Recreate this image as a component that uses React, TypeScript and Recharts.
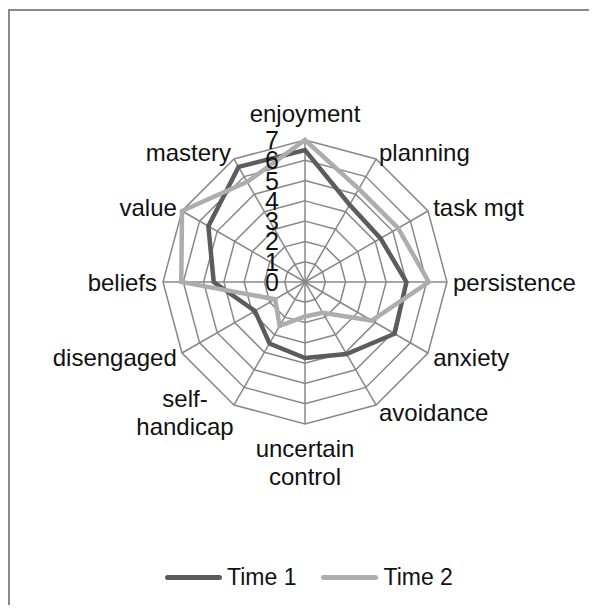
import { PolarAngleAxis, PolarGrid, PolarRadiusAxis, Radar, RadarChart, Legend } from "recharts";

const categories = [
  "enjoyment",
  "planning",
  "task mgt",
  "persistence",
  "anxiety",
  "avoidance",
  "uncertain\ncontrol",
  "self-\nhandicap",
  "disengaged",
  "beliefs",
  "value",
  "mastery",
];
const time1 = [6.5, 4.4, 4.3, 5.0, 5.1, 4.1, 3.75, 3.5, 2.85, 4.5, 5.5, 6.55];
const time2 = [7.0, 5.3, 5.3, 6.1, 3.8, 1.75, 1.7, 2.5, 1.7, 6.1, 7.0, 5.7];
const radiusTicks = [0, 1, 2, 3, 4, 5, 6, 7];

const seriesColors = { t1: "#5c5c5c", t2: "#adadad" };
const FONT = "'Liberation Sans', Arial, sans-serif";
const CX = 297;
const CY = 274;
const R = 142;
const RADIAN = Math.PI / 180;

const data = categories.map((name, i) => ({ name, t1: time1[i], t2: time2[i] }));

function AngleTick(props: any) {
  const { payload } = props;
  const angle = payload.coordinate;
  const cos = Math.cos(angle * RADIAN);
  const sin = Math.sin(angle * RADIAN);
  const lines = String(payload.value).split("\n");
  const lh = 28;
  const style = { fontFamily: FONT, fontSize: 24, fill: "#111" };
  if (Math.abs(cos) < 0.01) {
    const first = sin > 0 ? CY - R - 18 - (lines.length - 1) * lh : CY + R + 33;
    return (
      <text textAnchor="middle" style={style}>
        {lines.map((l, i) => (
          <tspan key={i} x={CX} y={first + i * lh}>
            {l}
          </tspan>
        ))}
      </text>
    );
  }
  let x = CX + (R + 6) * cos;
  const cyText = CY - (R + 8) * sin;
  let anchor = cos > 0 ? "start" : "end";
  if (lines.length > 1) {
    const w = Math.max(...lines.map((l) => l.length)) * 11.5;
    x = cos > 0 ? x + w / 2 : x - w / 2;
    anchor = "middle";
  }
  const top = cyText - ((lines.length - 1) * lh) / 2;
  return (
    <text textAnchor={anchor} dominantBaseline="central" style={style}>
      {lines.map((l, i) => (
        <tspan key={i} x={x} y={top + i * lh} dominantBaseline="central">
          {l}
        </tspan>
      ))}
    </text>
  );
}

function RadiusTick(props: any) {
  const { x, y, payload } = props;
  return (
    <text
      x={x - 26}
      y={y}
      textAnchor="end"
      dominantBaseline="central"
      style={{ fontFamily: FONT, fontSize: 25, fill: "#111" }}
    >
      {payload.value}
    </text>
  );
}

function LegendContent() {
  const items = [
    { label: "Time 1", color: seriesColors.t1 },
    { label: "Time 2", color: seriesColors.t2 },
  ];
  return (
    <div style={{ display: "flex", alignItems: "center", fontFamily: FONT, fontSize: 23, color: "#111" }}>
      {items.map((it, i) => (
        <div key={i} style={{ display: "flex", alignItems: "center", marginRight: i === 0 ? 25 : 0 }}>
          <span
            style={{ display: "inline-block", width: 57, height: 5, borderRadius: 3, background: it.color, marginRight: 5 }}
          ></span>
          <span>{it.label}</span>
        </div>
      ))}
    </div>
  );
}

export default function App() {
  return (
    <div style={{ position: "relative", width: 581, height: 597, overflow: "hidden" }}>
      <div
        style={{
          position: "absolute",
          left: 0,
          top: 1,
          width: 581,
          height: 596,
          borderTop: "2px solid #8a8a8a",
          borderLeft: "2px solid #8a8a8a",
          boxSizing: "border-box",
        }}
      />
      <RadarChart
        width={581}
        height={597}
        data={data}
        cx={CX}
        cy={CY}
        outerRadius={R}
        startAngle={90}
        endAngle={-270}
        margin={{ top: 0, right: 0, bottom: 0, left: 0 }}
      >
        <PolarGrid gridType="polygon" stroke="#888" strokeWidth={1.5} />
        <PolarAngleAxis dataKey="name" tick={<AngleTick />} tickLine={false} axisLine={false} />
        <PolarRadiusAxis
          angle={90}
          domain={[0, 7]}
          ticks={radiusTicks as any}
          tickCount={8}
          axisLine={false}
          tickLine={false}
          tick={<RadiusTick />}
        />
        <Radar
          name="Time 1"
          dataKey="t1"
          stroke={seriesColors.t1}
          strokeWidth={4.5}
          fill="none"
          fillOpacity={0}
          isAnimationActive={false}
        />
        <Radar
          name="Time 2"
          dataKey="t2"
          stroke={seriesColors.t2}
          strokeWidth={4.5}
          fill="none"
          fillOpacity={0}
          isAnimationActive={false}
        />
        <Legend
          content={<LegendContent />}
          wrapperStyle={{ position: "absolute", left: 157, top: 556, width: "auto" }}
        />
      </RadarChart>
    </div>
  );
}
